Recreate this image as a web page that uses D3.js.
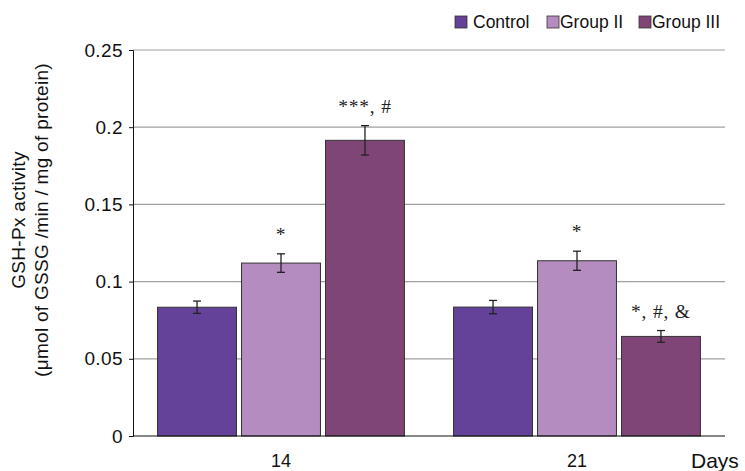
<!DOCTYPE html>
<html>
<head>
<meta charset="utf-8">
<script src="https://cdn.jsdelivr.net/npm/d3@7"></script>
<style>
  body { margin: 0; background: #fff; }
  svg { display: block; font-family: "Liberation Sans", Arial, sans-serif; }
</style>
</head>
<body>
<div id="chart"></div>
<script>
(function(){
  // data
  const days = ["14", "21"];
  const groups = ["Control", "Group II", "Group III"];
  const colors = ["#65429a", "#b48cbf", "#804577"];
  const means = [
    [0.0834, 0.1120, 0.1915],
    [0.0835, 0.1135, 0.0645]
  ];
  const errors = [
    [0.0040, 0.0060, 0.0095],
    [0.0043, 0.0062, 0.0038]
  ];
  const marks = [
    ["", "*", "***, #"],
    ["", "*", "*, #, &"]
  ];
  const yTicks = [0, 0.05, 0.1, 0.15, 0.2, 0.25];

  const width = 745;
  const height = 471;
  const margin = { top: 50, right: 20, bottom: 35, left: 133 };

  const svg = d3.select("#chart").append("svg")
    .attr("width", width)
    .attr("height", height);

  const x0 = d3.scaleBand()
    .domain(days)
    .range([margin.left, width - margin.right])
    .paddingInner(0.166)
    .paddingOuter(0.083);

  const x1 = d3.scaleBand()
    .domain(groups)
    .range([0, x0.bandwidth()])
    .paddingInner(0.06);

  const y = d3.scaleLinear()
    .domain([0, 0.25])
    .range([height - margin.bottom, margin.top]);

  // gridlines
  svg.append("g")
    .selectAll("line")
    .data(yTicks.slice(1))
    .enter().append("line")
    .attr("x1", margin.left)
    .attr("x2", width - margin.right)
    .attr("y1", d => y(d))
    .attr("y2", d => y(d))
    .attr("stroke", "#a0a0a0")
    .attr("stroke-width", 1.2);

  // y axis
  const yAxis = svg.append("g")
    .attr("transform", `translate(${margin.left},0)`)
    .call(d3.axisLeft(y).tickValues(yTicks).tickFormat(d => d === 0 ? "0" : String(d)).tickSize(4).tickPadding(6));
  yAxis.select(".domain").attr("stroke", "#111");
  yAxis.selectAll(".tick line").attr("stroke", "#111");
  yAxis.selectAll(".tick text")
    .attr("font-size", 19)
    .attr("letter-spacing", 0.4)
    .attr("fill", "#111")
    .style("font-family", "'Liberation Sans', Arial, sans-serif");

  // bars
  const groupG = svg.append("g")
    .selectAll("g")
    .data(days)
    .enter().append("g")
    .attr("transform", d => `translate(${x0(d)},0)`);

  groupG.each(function(day, i) {
    const g = d3.select(this);
    groups.forEach((grp, j) => {
      const bx = x1(grp);
      const bw = x1.bandwidth();
      const v = means[i][j];
      const e = errors[i][j];
      g.append("rect")
        .attr("x", bx)
        .attr("y", y(v))
        .attr("width", bw)
        .attr("height", y(0) - y(v))
        .attr("fill", colors[j])
        .attr("stroke", "#333")
        .attr("stroke-width", 1);

      const cx = bx + bw / 2;
      g.append("line")
        .attr("x1", cx).attr("x2", cx)
        .attr("y1", y(v + e)).attr("y2", y(v - e))
        .attr("stroke", "#222").attr("stroke-width", 1.3);
      [v + e, v - e].forEach(t => {
        g.append("line")
          .attr("x1", cx - 4).attr("x2", cx + 4)
          .attr("y1", y(t)).attr("y2", y(t))
          .attr("stroke", "#222").attr("stroke-width", 1.3);
      });

      if (marks[i][j]) {
        g.append("text")
          .attr("x", cx)
          .attr("y", y(v + e) - 13)
          .attr("text-anchor", "middle")
          .attr("font-size", 19.5)
          .attr("letter-spacing", 0.8)
          .style("font-family", "'Liberation Serif', 'Times New Roman', serif")
          .attr("fill", "#222")
          .text(marks[i][j]);
      }
    });
  });

  // x axis baseline
  svg.append("line")
    .attr("x1", margin.left)
    .attr("x2", width - margin.right)
    .attr("y1", y(0))
    .attr("y2", y(0))
    .attr("stroke", "#111")
    .attr("stroke-width", 1.2);

  svg.append("g")
    .selectAll("text")
    .data(days)
    .enter().append("text")
    .attr("x", d => x0(d) + x0.bandwidth() / 2)
    .attr("y", 467)
    .attr("text-anchor", "middle")
    .attr("font-size", 18)
    .attr("fill", "#111")
    .text(d => d);

  svg.append("text")
    .attr("x", 691)
    .attr("y", 468)
    .attr("font-size", 21)
    .attr("fill", "#111")
    .text("Days");

  // y title
  const yTitle = svg.append("text")
    .attr("transform", "translate(0,220) rotate(-90)")
    .attr("text-anchor", "middle")
    .attr("font-size", 19)
    .attr("letter-spacing", 0.3)
    .attr("fill", "#111");
  yTitle.append("tspan").attr("x", 0).attr("y", 25).text("GSH-Px activity");
  yTitle.append("tspan").attr("x", 0).attr("y", 48).text("(μmol of GSSG /min / mg of protein)");

  // legend
  const legendX = [455, 547, 639];
  const legend = svg.append("g")
    .selectAll("g")
    .data(groups)
    .enter().append("g")
    .attr("transform", (d, i) => `translate(${legendX[i]},16)`);
  legend.append("rect")
    .attr("width", 12)
    .attr("height", 12)
    .attr("fill", (d, i) => colors[i])
    .attr("stroke", "#333")
    .attr("stroke-width", 0.8);
  legend.append("text")
    .attr("x", (d, i) => i === 0 ? 18 : 13)
    .attr("y", 12)
    .attr("font-size", 17.5)
    .attr("fill", "#111")
    .text(d => d);
})();
</script>
</body>
</html>
